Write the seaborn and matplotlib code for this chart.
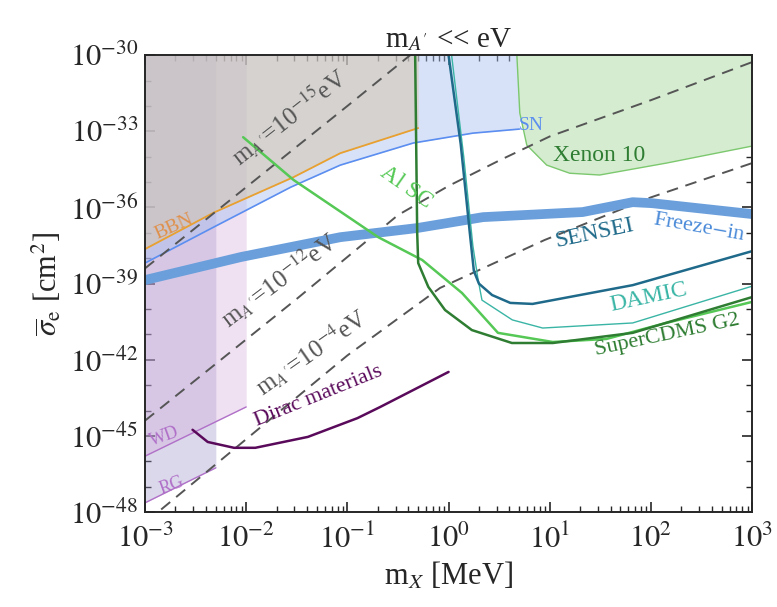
import matplotlib
matplotlib.use("Agg")
import matplotlib.pyplot as plt
import matplotlib.ticker as mt
import numpy as np
import pandas as pd
import seaborn as sns

# all values in log10 units (x: MeV, y: cm^2)
rg_x, rg_y = [-3.0, -2.3], [-47.64, -46.26]
wd_x, wd_y = [-3.0, -2.0], [-45.8, -43.86]
bbn_x = [-3.0, -2.32, -1.53, -1.07, -0.30]
bbn_y = [-37.64, -36.2, -34.8, -33.86, -32.87]
sn_x = [-3.0, -2.32, -1.56, -1.07, -0.35, 0.24, 0.70]
sn_y = [-38.19, -36.77, -35.2, -34.33, -33.46, -33.07, -32.91]
xe_x = [0.675, 0.704, 0.773, 0.97, 1.197, 1.493, 2.153, 3.0]
xe_y = [-30.0, -32.28, -33.54, -34.33, -34.65, -34.72, -34.25, -33.58]
fi_x = [-3.0, -2.05, -1.07, -0.31, 0.34, 1.325, 1.82, 2.01, 3.0]
fi_y = [-38.86, -37.95, -37.17, -36.81, -36.38, -36.18, -35.79, -35.83, -36.26]
alsc_x = [-2.03, -1.53, -0.695, -0.26, 0.133, 0.488, 1.03, 1.56, 2.15, 3.0]
alsc_y = [-33.23, -34.92, -37.17, -38.07, -39.37, -40.94, -41.3, -41.18, -40.55, -39.72]
cdms_x = [-0.33, -0.31, -0.30, -0.20, -0.035, 0.23, 0.626, 1.03, 1.82, 3.0]
cdms_y = [-30.0, -37.0, -38.19, -39.13, -40.04, -40.83, -41.34, -41.34, -40.94, -39.53]
sensei_x = [0.0, 0.12, 0.21, 0.25, 0.30, 0.43, 0.61, 0.83, 1.82, 3.0]
sensei_y = [-30.0, -33.5, -37.0, -38.5, -39.0, -39.45, -39.76, -39.8, -39.06, -37.72]
damic_x = [0.03, 0.15, 0.24, 0.29, 0.33, 0.63, 0.93, 1.82, 3.0]
damic_y = [-30.0, -34.0, -37.5, -38.8, -39.65, -40.43, -40.75, -40.55, -39.1]
dirac_x = [-2.53, -2.38, -2.12, -1.91, -1.39, -0.90, -0.675, 0.0]
dirac_y = [-44.76, -45.24, -45.47, -45.47, -45.04, -44.3, -43.86, -42.48]
mA15_x, mA15_y = [-3.0, -2.0, -1.0, -0.38], [-38.4, -35.2, -32.0, -30.0]
mA12_x = [-3.0, -2.5, -1.5, -0.5, 0.0, 0.5, 1.0, 2.0, 3.0]
mA12_y = [-44.4, -42.8, -39.6, -36.3, -35.15, -34.15, -33.2, -31.77, -30.27]
mA4_x = [-2.84, -2.0, -1.0, -0.084, 0.95, 2.0, 3.0]
mA4_y = [-47.9, -45.13, -41.83, -39.17, -37.28, -35.6, -34.25]

sns.set_theme(style="ticks")
plt.rcParams["font.family"] = ["Liberation Serif", "DejaVu Serif"]
plt.rcParams["mathtext.fontset"] = "stix"

P = lambda v: 10.0 ** np.asarray(v)
TOP = 1e-30

fig = plt.figure(figsize=(7.77, 6.07), dpi=100)
ax = fig.add_axes([0.1866, 0.1565, 0.7814, 0.7525])

# shaded constraints
ax.fill_between(P(rg_x), P(rg_y), TOP, color="#9a90c8", alpha=0.35, lw=0)
ax.fill_between(P(wd_x), P(wd_y), TOP, color="#d2a8dc", alpha=0.35, lw=0)
ax.fill_between(P(sn_x), P(sn_y), TOP, color="#a8c0f0", alpha=0.45, lw=0)
ax.fill_between(P(bbn_x), P(bbn_y), TOP, color="#d4c6ae", alpha=0.55, lw=0)
ax.fill(P(xe_x + [3.0]), P(xe_y + [-30.0]), facecolor="#d5ecd0", edgecolor="#7cc86e", lw=1)

def line(xs, ys, **kw):
    d = pd.DataFrame({"x": P(xs), "y": P(ys)})
    sns.lineplot(data=d, x="x", y="y", sort=False, estimator=None, ax=ax, **kw)

line(rg_x, rg_y, color="#b070c8", lw=1)
line(wd_x, wd_y, color="#b070c8", lw=1)
line(sn_x, sn_y, color="#5b8ef0", lw=1.2)
line(bbn_x, bbn_y, color="#e8a030", lw=1.3)
for xs, ys in [(mA15_x, mA15_y), (mA12_x, mA12_y), (mA4_x, mA4_y)]:
    line(xs, ys, color="#555555", lw=1.4, dashes=(6, 4))
line(fi_x, fi_y, color="#6a9fdc", lw=7)
line(alsc_x, alsc_y, color="#55c855", lw=1.8)
line(cdms_x, cdms_y, color="#2e7d32", lw=1.8)
line(damic_x, damic_y, color="#3ab5a5", lw=1)
line(sensei_x, sensei_y, color="#1f6a8a", lw=1.8)
line(dirac_x, dirac_y, color="#5a0a5a", lw=1.8)

def lab(x, y, s, c, rot=0, fs=16):
    ax.text(10 ** x, 10 ** y, s, color=c, rotation=rot, fontsize=fs,
            ha="center", va="center", rotation_mode="anchor")

lab(-2.71, -36.77, "BBN", "#e0904a", 24, 14)
lab(0.82, -32.76, "SN", "#5b8ef0", 0, 14)
lab(1.49, -33.94, "Xenon 10", "#2e7d32", 0, 17)
lab(-0.42, -35.2, "Al SC", "#55c855", -35, 17)
lab(2.48, -36.8, "Freeze$-$in", "#4a8ad8", -10, 16)
lab(1.44, -37.0, "SENSEI", "#1f6a8a", 12, 17)
lab(1.98, -39.53, "DAMIC", "#3ab5a5", 12, 17)
lab(2.16, -41.02, "SuperCDMS G2", "#2e7d32", 12, 16)
lab(-1.29, -43.45, "Dirac materials", "#5a0a5a", 22, 16)
lab(-2.81, -45.04, "WD", "#b070c8", 20, 13)
lab(-2.74, -46.97, "RG", "#b070c8", 20, 13)
lab(-1.58, -32.45, "m$_{A'}$=10$^{-15}$eV", "#555555", 38, 18)
lab(-1.68, -38.85, "m$_{A'}$=10$^{-12}$eV", "#555555", 37, 18)
lab(-1.36, -41.7, "m$_{A'}$=10$^{-4}$eV", "#555555", 35, 18)

ax.set_xscale("log")
ax.set_yscale("log")
ax.set_xlim(1e-3, 1e3)
ax.set_ylim(1e-48, 1e-30)
ax.set_xticks(P(np.arange(-3, 4)))
ax.set_xticklabels([f"$10^{{{k}}}$" for k in range(-3, 4)])
ax.set_yticks(P(np.arange(-48, -29, 3)))
ax.set_yticklabels([f"$10^{{{k}}}$" for k in range(-48, -29, 3)])
ax.xaxis.set_minor_locator(mt.LogLocator(base=10, subs=np.arange(2, 10), numticks=50))
ax.yaxis.set_minor_locator(mt.FixedLocator(P(np.arange(-48, -29))))
ax.yaxis.set_minor_formatter(mt.NullFormatter())
ax.xaxis.set_minor_formatter(mt.NullFormatter())
ax.tick_params(which="both", direction="in", top=True, right=True, labelsize=22)
ax.tick_params(axis="x", pad=9)
ax.tick_params(axis="y", pad=5)
ax.tick_params(which="major", length=7, width=1.2)
ax.tick_params(which="minor", length=4)
for s in ax.spines.values():
    s.set_linewidth(1.4)
ax.set_xlabel("m$_X$ [MeV]", fontsize=22)
ax.set_ylabel(r"$\overline{\sigma}_{\rm e}$ [cm$^2$]", fontsize=22)
ax.set_title("m$_{A'}$ << eV", fontsize=21, pad=6)

fig.savefig("out.png", dpi=100)
